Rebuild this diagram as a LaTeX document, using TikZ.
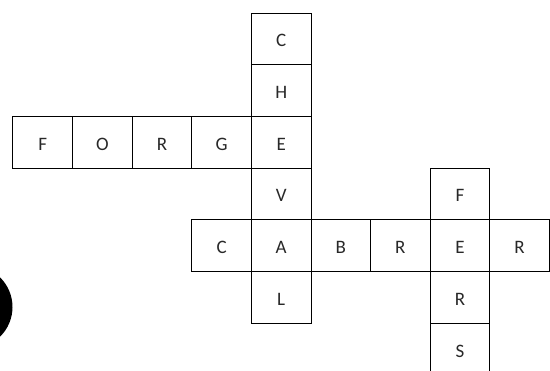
\documentclass[tikz,border=0pt]{standalone}
\usepackage{fontspec}
\setmainfont{Carlito}
\definecolor{ink}{RGB}{40,40,40}
\begin{document}
\begin{tikzpicture}[x=1bp,y=1bp,
  cell/.style={draw=black,line width=1bp,rectangle,minimum width=59.6bp,minimum height=51.7bp,
    inner sep=0pt,text height=16bp,text depth=0bp,text=ink,font=\fontsize{19bp}{22bp}\selectfont}]
\useasboundingbox (0,0) rectangle (550,-370);
\clip (0,0) rectangle (550,-370);
\def\xo{13}\def\cw{59.6}\def\yo{13}\def\ch{51.7}
\newcommand{\cellat}[4]{\node[cell] (#1) at ({\xo+(#2+0.5)*\cw},{-(\yo+(#3+0.5)*\ch)}) {#4};}
% CHEVAL (vertical)
\cellat{v1}{4}{0}{C}
\cellat{v2}{4}{1}{H}
\cellat{v3}{4}{2}{E}
\cellat{v4}{4}{3}{V}
\cellat{v5}{4}{4}{A}
\cellat{v6}{4}{5}{L}
% FORGE (horizontal)
\cellat{h1}{0}{2}{F}
\cellat{h2}{1}{2}{O}
\cellat{h3}{2}{2}{R}
\cellat{h4}{3}{2}{G}
% CABRER (horizontal)
\cellat{c1}{3}{4}{C}
\cellat{c3}{5}{4}{B}
\cellat{c4}{6}{4}{R}
\cellat{c5}{7}{4}{E}
\cellat{c6}{8}{4}{R}
% FERS (vertical)
\cellat{f1}{7}{3}{F}
\cellat{f3}{7}{5}{R}
\cellat{f4}{7}{6}{S}
% black disc at left
\fill[black] (-29,-307) circle (41.5);
\end{tikzpicture}
\end{document}
